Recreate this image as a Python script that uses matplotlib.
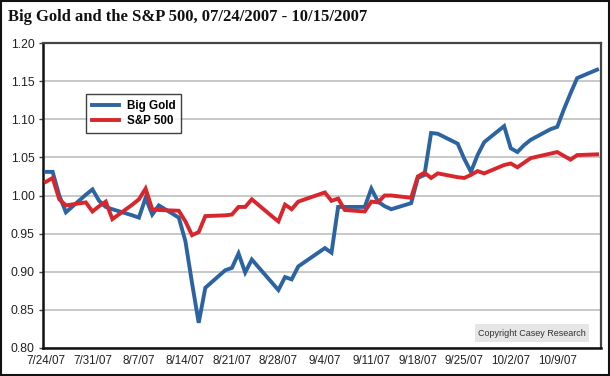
import matplotlib
matplotlib.use("Agg")
import matplotlib.pyplot as plt
import matplotlib.dates as mdates
from matplotlib.patches import Rectangle
import datetime as dt

dates = ["2007-07-24", "2007-07-25", "2007-07-26", "2007-07-27", "2007-07-30", "2007-07-31",
         "2007-08-01", "2007-08-02", "2007-08-03", "2007-08-06", "2007-08-07", "2007-08-08",
         "2007-08-09", "2007-08-10", "2007-08-13", "2007-08-14", "2007-08-15", "2007-08-16",
         "2007-08-17", "2007-08-20", "2007-08-21", "2007-08-22", "2007-08-23", "2007-08-24",
         "2007-08-27", "2007-08-28", "2007-08-29", "2007-08-30", "2007-08-31", "2007-09-04",
         "2007-09-05", "2007-09-06", "2007-09-07", "2007-09-10", "2007-09-11", "2007-09-12",
         "2007-09-13", "2007-09-14", "2007-09-17", "2007-09-18", "2007-09-19", "2007-09-20",
         "2007-09-21", "2007-09-24", "2007-09-25", "2007-09-26", "2007-09-27", "2007-09-28",
         "2007-10-01", "2007-10-02", "2007-10-03", "2007-10-04", "2007-10-05", "2007-10-08",
         "2007-10-09", "2007-10-10", "2007-10-11", "2007-10-12", "2007-10-15"]

big_gold = [1.031, 1.031, 1.000, 0.978, 1.001, 1.008,
            0.993, 0.985, 0.982, 0.974, 0.971, 0.997,
            0.975, 0.987, 0.971, 0.940, 0.885, 0.833,
            0.879, 0.902, 0.905, 0.924, 0.899, 0.916,
            0.886, 0.876, 0.893, 0.890, 0.907, 0.931,
            0.925, 0.985, 0.985, 0.985, 1.009, 0.992,
            0.986, 0.982, 0.990, 1.023, 1.027, 1.082,
            1.081, 1.068, 1.048, 1.031, 1.053, 1.070,
            1.091, 1.062, 1.057, 1.066, 1.073, 1.087,
            1.090, 1.113, 1.134, 1.154, 1.165]

sp500 = [1.018, 1.023, 0.995, 0.987, 0.991, 0.979,
         0.986, 0.992, 0.969, 0.988, 0.995, 1.009,
         0.982, 0.981, 0.980, 0.966, 0.948, 0.952,
         0.973, 0.974, 0.975, 0.985, 0.985, 0.995,
         0.973, 0.966, 0.988, 0.982, 0.992, 1.004,
         0.993, 0.996, 0.981, 0.979, 0.992, 0.991,
         1.000, 1.000, 0.997, 1.025, 1.030, 1.023,
         1.029, 1.024, 1.023, 1.027, 1.032, 1.029,
         1.040, 1.042, 1.037, 1.043, 1.049, 1.055,
         1.057, 1.052, 1.047, 1.053, 1.054]

tick_dates = ["2007-07-24", "2007-07-31", "2007-08-07", "2007-08-14", "2007-08-21", "2007-08-28",
              "2007-09-04", "2007-09-11", "2007-09-18", "2007-09-25", "2007-10-02", "2007-10-09"]
tick_labels = ["7/24/07", "7/31/07", "8/7/07", "8/14/07", "8/21/07", "8/28/07",
               "9/4/07", "9/11/07", "9/18/07", "9/25/07", "10/2/07", "10/9/07"]
y_ticks = [0.80, 0.85, 0.90, 0.95, 1.00, 1.05, 1.10, 1.15, 1.20]

title = "Big Gold and the S&P 500, 07/24/2007 - 10/15/2007"
series_names = ["Big Gold", "S&P 500"]
colors = ["#2c64a2", "#d8262c"]

sans = ["Liberation Sans", "DejaVu Sans"]

x = [dt.datetime.strptime(d, "%Y-%m-%d") for d in dates]
tx = [dt.datetime.strptime(d, "%Y-%m-%d") for d in tick_dates]

fig = plt.figure(figsize=(6.10, 3.76), dpi=100)
fig.patch.set_facecolor("white")
ax = fig.add_axes([43/610, 28/376, 558/610, 305/376])

for vals, name, c in zip([big_gold, sp500], series_names, colors):
    ax.plot(x, vals, color=c, lw=2.8, label=name, solid_joinstyle="miter", zorder=3)

ax.set_ylim(0.80, 1.20)
ax.set_yticks(y_ticks)
ax.set_yticklabels([f"{v:.2f}" for v in y_ticks], fontfamily=sans, fontsize=8.8, color="#222222")
x0 = mdates.date2num(x[0]) - 0.45
x1 = mdates.date2num(x[-1]) + 0.59
ax.set_xlim(x0, x1)
ax.set_xticks(mdates.date2num(tx))
ax.set_xticklabels(tick_labels, fontfamily=sans, fontsize=8.4, color="#222222")
ax.tick_params(axis="x", length=0, pad=5)
ax.tick_params(axis="y", length=3, width=1, color="#444444", pad=3)
ax.grid(axis="y", color="#c8c8c8", lw=1.4, zorder=0)
ax.set_axisbelow(True)
for s in ["left", "bottom"]:
    ax.spines[s].set_color("#111111")
    ax.spines[s].set_linewidth(1.8)
for s in ["top", "right"]:
    ax.spines[s].set_color("#444444")
    ax.spines[s].set_linewidth(1.6)

leg = ax.legend(loc="upper left", bbox_to_anchor=((86-43)/558, (348-94)/305),
                prop={"family": sans, "weight": "bold", "size": 8.4},
                frameon=True, fancybox=False, edgecolor="#111111", handlelength=2.3,
                borderpad=0.5, labelspacing=0.3, handletextpad=0.7, borderaxespad=0)
leg.get_frame().set_linewidth(1.0)

ax.add_patch(Rectangle(((475-43)/558, (348-342)/305), 114/558, 18/305,
                       transform=ax.transAxes, fc="#e6e6e6", ec="none", zorder=4))
ax.text((532-43)/558, (348-333)/305, "Copyright Casey Research", transform=ax.transAxes,
        ha="center", va="center", fontfamily=sans, fontsize=6.5, color="#333333", zorder=5)

fig.text(8/610, 1 - 17/376, title, ha="left", va="center",
         fontfamily=["Liberation Serif", "DejaVu Serif"],
         fontweight="bold", fontsize=12, color="#111111")

fig.add_artist(Rectangle((0.001, 0.002), 0.997, 0.995, transform=fig.transFigure,
                         fill=False, ec="#111111", lw=1.5))

fig.savefig("out.png", dpi=100, facecolor="white")
